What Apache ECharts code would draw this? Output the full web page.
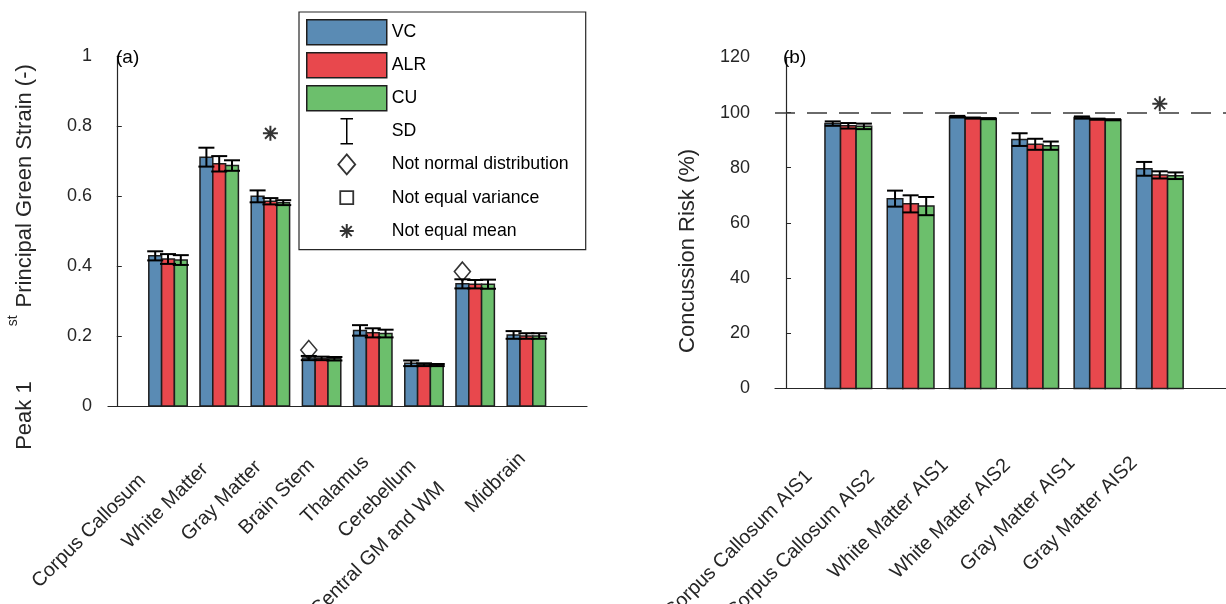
<!DOCTYPE html>
<html><head><meta charset="utf-8">
<script src="https://cdn.jsdelivr.net/npm/echarts@6/dist/echarts.min.js"></script>
<style>html,body{margin:0;padding:0;background:#fff}#c{width:1226px;height:604px}</style>
</head><body><div id="c"></div>
<script>
// ---------- data: panel (a) ----------
const strainCategories = ['Corpus Callosum', 'White Matter', 'Gray Matter', 'Brain Stem', 'Thalamus', 'Cerebellum', 'Central GM and WM', 'Midbrain'];
const strainVC  = [0.429, 0.711, 0.599, 0.137, 0.216, 0.122, 0.349, 0.203];
const strainALR = [0.420, 0.692, 0.585, 0.136, 0.209, 0.118, 0.348, 0.200];
const strainCU  = [0.417, 0.687, 0.581, 0.135, 0.207, 0.117, 0.348, 0.200];
const strainVCsd  = [0.013, 0.027, 0.017, 0.006, 0.015, 0.008, 0.013, 0.011];
const strainALRsd = [0.014, 0.022, 0.009, 0.005, 0.013, 0.004, 0.012, 0.008];
const strainCUsd  = [0.014, 0.015, 0.007, 0.005, 0.011, 0.003, 0.013, 0.008];
// markers: category number (1-based), bar group (0=VC,1=ALR,2=CU, null = centre), value
const strainNotNormal = [[4, 0, 0.160], [7, 0, 0.384]];
const strainNotEqualMean = [[3, null, 0.779]];

// ---------- data: panel (b) ----------
const riskCategories = ['Corpus Callosum AIS1', 'Corpus Callosum AIS2', 'White Matter AIS1', 'White Matter AIS2', 'Gray Matter AIS1', 'Gray Matter AIS2'];
const riskVC  = [96.0, 68.8, 98.5, 90.2, 98.2, 79.6];
const riskALR = [95.2, 66.9, 98.0, 88.5, 97.6, 77.4];
const riskCU  = [95.0, 66.1, 97.8, 88.0, 97.4, 77.1];
const riskVCsd  = [0.8, 2.9, 0.3, 2.3, 0.4, 2.5];
const riskALRsd = [1.0, 3.1, 0.2, 2.0, 0.2, 1.3];
const riskCUsd  = [1.0, 3.3, 0.2, 1.5, 0.2, 1.2];
const riskNotEqualMean = [[6, null, 103.2]];
const riskReference = 100;

const groupNames = ['VC', 'ALR', 'CU'];
const groupColors = ['#5a8bb4', '#e8484d', '#6cbf6c'];

// ---------- styling ----------
const EDGE = '#1e1e1e';
const AXC = '#262626';
const FONT = "'Liberation Sans', Arial, Helvetica, sans-serif";
const BAR_W = 0.25;
const OFFSETS = [-0.25, 0, 0.25];
const CAP = 16;
const CAT_FONT = 19.8;

const DIAMOND = 'path://M0,-10L8,0L0,10L-8,0Z';
const STAR = 'path://M0,-7L0,7M-7,0L7,0M-5,-5L5,5M5,-5L-5,5';

const measureCtx = document.createElement('canvas').getContext('2d');
function textWidth(s, size) {
  measureCtx.font = size + "px 'Liberation Sans', Arial, sans-serif";
  return measureCtx.measureText(s).width;
}

function barSeries(k, values, ax) {
  const color = groupColors[k];
  return {
    type: 'custom', name: groupNames[k], xAxisIndex: ax, yAxisIndex: ax, z: 2,
    data: values.map((v, i) => [i + 1, v]),
    encode: { x: 0, y: 1 },
    itemStyle: { color },
    renderItem(params, api) {
      const x = api.value(0) + OFFSETS[k];
      const a = api.coord([x - BAR_W / 2, 0]);
      const b = api.coord([x + BAR_W / 2, api.value(1)]);
      return { type: 'rect',
        shape: { x: a[0], y: b[1], width: b[0] - a[0], height: a[1] - b[1] },
        style: { fill: color, stroke: EDGE, lineWidth: 1.5 } };
    }
  };
}

function sdSeries(groups, ax) {
  const data = [];
  groups.forEach(([vals, sds], k) => vals.forEach((v, i) => data.push([i + 1, v, sds[i], k])));
  return {
    type: 'custom', name: 'SD', xAxisIndex: ax, yAxisIndex: ax, z: 3,
    data, encode: { x: 0, y: 1 },
    itemStyle: { color: '#000' },
    renderItem(params, api) {
      const x = api.value(0) + OFFSETS[api.value(3)];
      const m = api.value(1), s = api.value(2);
      const t = api.coord([x, m + s]), b = api.coord([x, m - s]);
      const h = CAP / 2;
      const st = { stroke: '#000', lineWidth: 2 };
      return { type: 'group', children: [
        { type: 'line', shape: { x1: t[0], y1: t[1], x2: b[0], y2: b[1] }, style: st },
        { type: 'line', shape: { x1: t[0] - h, y1: t[1], x2: t[0] + h, y2: t[1] }, style: st },
        { type: 'line', shape: { x1: b[0] - h, y1: b[1], x2: b[0] + h, y2: b[1] }, style: st }
      ] };
    }
  };
}

function markerData(list) {
  return list.map(([c, g, v]) => [c + (g === null ? 0 : OFFSETS[g]), v]);
}

const markerStyle = { color: 'rgba(255,255,255,0)', borderColor: '#000', borderWidth: 1.6 };

function xAxis(grid, cats, min, max, margin) {
  // rotated labels: longer labels sit further down-left along their own direction
  const rich = { t: { fontSize: CAT_FONT, color: AXC, fontFamily: FONT } };
  cats.forEach((c, i) => {
    const w = textWidth(c, CAT_FONT);
    rich['w' + i] = { width: 4 + 0.4 * Math.max(0, w - 72), fontSize: CAT_FONT };
  });
  return {
    type: 'value', gridIndex: grid, min, max,
    axisLine: { show: true, onZero: false, lineStyle: { color: AXC, width: 1.2 } },
    axisTick: { show: false }, splitLine: { show: false },
    axisLabel: {
      customValues: cats.map((c, i) => i + 1),
      formatter: v => {
        const i = Math.round(v) - 1;
        return cats[i] ? '{t|' + cats[i] + '}{w' + i + '| }' : '';
      },
      rich, rotate: 45, margin, fontSize: CAT_FONT, color: AXC, fontFamily: FONT
    }
  };
}
function yAxis(grid, max, interval, labelMargin, name, gap, nameStyle) {
  return {
    type: 'value', gridIndex: grid, min: 0, max, interval,
    axisLine: { show: true, lineStyle: { color: AXC, width: 1.2 } },
    axisTick: { show: true, inside: true, length: 5, lineStyle: { color: AXC } },
    splitLine: { show: false },
    axisLabel: { fontSize: 18, color: AXC, margin: labelMargin, fontFamily: FONT, padding: [0, 0, 10, 0] },
    name, nameLocation: 'middle', nameGap: gap, nameRotate: 90,
    nameTextStyle: Object.assign({ fontSize: 22, color: AXC, fontFamily: FONT }, nameStyle)
  };
}

const legendItems = [
  { name: 'VC', icon: 'rect', itemStyle: { color: groupColors[0], borderColor: EDGE, borderWidth: 1.5 } },
  { name: 'ALR', icon: 'rect', itemStyle: { color: groupColors[1], borderColor: EDGE, borderWidth: 1.5 } },
  { name: 'CU', icon: 'rect', itemStyle: { color: groupColors[2], borderColor: EDGE, borderWidth: 1.5 } },
  { name: 'SD', icon: 'path://M0,0M25,26M6,0L19,0M12.5,0L12.5,26M6,26L19,26', itemStyle: { color: 'rgba(0,0,0,0)', borderColor: '#000', borderWidth: 1.5 } },
  { name: 'Not normal distribution', icon: 'path://M0,0M25,25M12.5,2.5L21,12.5L12.5,22.5L4,12.5Z', itemStyle: { color: 'rgba(255,255,255,0)', borderColor: '#000', borderWidth: 1.8 } },
  { name: 'Not equal variance', icon: 'path://M0,0M25,25M6,6L19,6L19,19L6,19Z', itemStyle: { color: 'rgba(255,255,255,0)', borderColor: '#000', borderWidth: 1.8 } },
  { name: 'Not equal mean', icon: 'path://M0,0M25,25M12.5,5.5L12.5,19.5M5.5,12.5L19.5,12.5M7.5,7.5L17.5,17.5M17.5,7.5L7.5,17.5', itemStyle: { color: 'rgba(0,0,0,0)', borderColor: '#000', borderWidth: 2 } }
];

const chart = echarts.init(document.getElementById('c'), null, { renderer: 'canvas' });
chart.setOption({
  animation: false,
  backgroundColor: '#fff',
  textStyle: { fontFamily: FONT },
  title: [
    { text: '(a)', left: 116, top: 48, padding: 0, textStyle: { fontSize: 19, fontWeight: 'normal', color: '#000', fontFamily: FONT } },
    { text: '(b)', left: 783, top: 48, padding: 0, textStyle: { fontSize: 19, fontWeight: 'normal', color: '#000', fontFamily: FONT } }
  ],
  legend: {
    data: legendItems, orient: 'vertical', left: 299, top: 12,
    padding: [7, 17, 5, 7], itemGap: 6.5, itemWidth: 80, itemHeight: 25,
    borderColor: AXC, borderWidth: 1.2, backgroundColor: '#fff',
    selectedMode: false, z: 10,
    textStyle: { fontSize: 17.7, color: '#000', fontFamily: FONT, padding: [0, 0, 5, 0] }
  },
  grid: [
    { left: 108, top: 56, width: 479, height: 350, containLabel: false, outerBoundsMode: 'none' },
    { left: 775, top: 57.4, width: 451, height: 331, containLabel: false, outerBoundsMode: 'none' }
  ],
  xAxis: [
    xAxis(0, strainCategories, -0.172, 9.184, 46),
    xAxis(1, riskCategories, -0.177, 7.063, 46)
  ],
  yAxis: [
    yAxis(0, 1, 0.2, 16, '{m|Peak 1}{g1| }{s|st}{g2| }{m|Principal Green Strain (-)}', 72, {
      padding: [0, 52, 0, 0],
      rich: {
        m: { fontSize: 22, color: AXC, fontFamily: FONT, lineHeight: 30, verticalAlign: 'bottom' },
        s: { fontSize: 14, color: AXC, fontFamily: FONT, lineHeight: 16, verticalAlign: 'top' },
        g1: { width: 55, fontSize: 14 },
        g2: { width: 8, fontSize: 14 }
      }
    }),
    yAxis(1, 120, 20, 25, 'Concussion Risk (%)', 76, { padding: [0, 56, 0, 0] })
  ],
  series: [
    barSeries(0, strainVC, 0), barSeries(1, strainALR, 0), barSeries(2, strainCU, 0),
    sdSeries([[strainVC, strainVCsd], [strainALR, strainALRsd], [strainCU, strainCUsd]], 0),
    barSeries(0, riskVC, 1), barSeries(1, riskALR, 1), barSeries(2, riskCU, 1),
    sdSeries([[riskVC, riskVCsd], [riskALR, riskALRsd], [riskCU, riskCUsd]], 1),
    { type: 'scatter', name: 'Not normal distribution', xAxisIndex: 0, yAxisIndex: 0, z: 4,
      symbol: DIAMOND, symbolSize: [16, 19], itemStyle: markerStyle, data: markerData(strainNotNormal) },
    { type: 'scatter', name: 'Not equal variance', xAxisIndex: 0, yAxisIndex: 0, z: 4,
      symbol: 'rect', symbolSize: 13, itemStyle: markerStyle, data: [] },
    { type: 'scatter', name: 'Not equal mean', xAxisIndex: 0, yAxisIndex: 0, z: 4,
      symbol: STAR, symbolSize: 15, itemStyle: { color: 'rgba(0,0,0,0)', borderColor: '#000', borderWidth: 2 },
      data: markerData(strainNotEqualMean) },
    { type: 'scatter', name: 'Not equal mean', xAxisIndex: 1, yAxisIndex: 1, z: 4,
      symbol: STAR, symbolSize: 15, itemStyle: { color: 'rgba(0,0,0,0)', borderColor: '#000', borderWidth: 2 },
      data: markerData(riskNotEqualMean),
      markLine: { silent: true, symbol: 'none', label: { show: false },
        lineStyle: { type: [20, 12], color: '#3a3a3a', width: 1.6 },
        data: [{ yAxis: riskReference }] } }
  ]
});
</script></body></html>
